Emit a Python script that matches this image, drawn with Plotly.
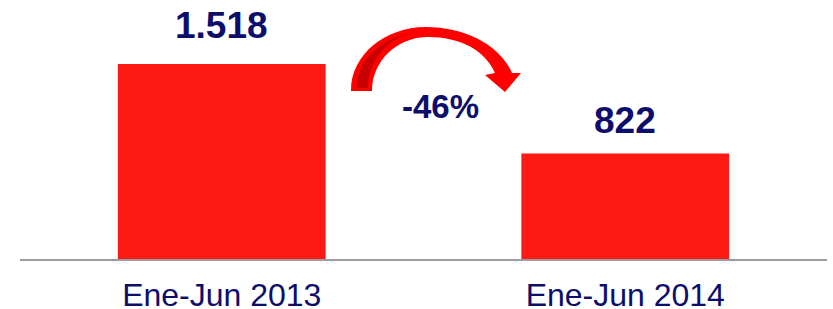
import plotly.graph_objects as go

# ---- data ----
categories = ["Ene-Jun 2013", "Ene-Jun 2014"]
values = [1518, 822]
change_label = "-46%"

# ---- style ----
BAR_RED = "#FF1914"
NAVY = "#0D0D6B"
ARROW_RED = "#FF0000"
ARROW_DARK = "#C80000"
FONT = "Liberation Sans"

W, H = 833, 309
L, R, T, B = 20, 6, 0, 50
PW, PH = W - L - R, H - T - B
label_shift = [39, 33]


def px(x):
    return (x - L) / PW


def py(y):
    return (T + PH - y) / PH


def pt(x, y):
    return f"{px(x):.5f},{py(y):.5f}"


fig = go.Figure()
fig.add_trace(go.Bar(
    x=categories, y=values,
    marker=dict(color=BAR_RED, line=dict(width=0)),
    width=0.515, hoverinfo="skip",
))


def fmt(v):
    return f"{v:,}".replace(",", ".")


annotations = []
for c, v, s in zip(categories, values, label_shift):
    annotations.append(dict(
        x=c, y=v, xref="x", yref="y", text=fmt(v), showarrow=False,
        xanchor="center", yanchor="middle", yshift=s,
        font=dict(family=FONT, size=37, color=NAVY, weight="bold"),
    ))
annotations.append(dict(
    x=px(440), y=py(107), xref="paper", yref="paper", text=change_label,
    showarrow=False, xanchor="center", yanchor="middle",
    font=dict(family=FONT, size=33, color=NAVY, weight="bold"),
))

# curved arrow (decoration)
arrow_path = (
    f"M {pt(351, 90)} "
    f"C {pt(351, 55)} {pt(385, 27)} {pt(426, 27)} "
    f"C {pt(465, 27)} {pt(500, 45)} {pt(512, 73)} "
    f"L {pt(521, 73)} L {pt(505, 92)} L {pt(485, 75)} L {pt(495, 73)} "
    f"C {pt(485, 50)} {pt(460, 37)} {pt(428, 37)} "
    f"C {pt(397, 37)} {pt(372, 61)} {pt(372, 91)} "
    f"L {pt(351, 91)} Z"
)
stripe_path = (
    f"M {pt(357, 88)} "
    f"C {pt(357, 60)} {pt(380, 38)} {pt(418, 31)} "
    f"C {pt(388, 36)} {pt(368, 60)} {pt(368, 88)} Z"
)
shapes = [
    dict(type="path", xref="paper", yref="paper", path=arrow_path,
         fillcolor=ARROW_RED, line=dict(width=0), layer="above"),
    dict(type="path", xref="paper", yref="paper", path=stripe_path,
         fillcolor=ARROW_DARK, line=dict(width=0), layer="above"),
]

ymax = values[0] * PH / 195

fig.update_layout(
    width=W, height=H,
    margin=dict(l=L, r=R, t=T, b=B, pad=0),
    paper_bgcolor="white", plot_bgcolor="white",
    showlegend=False,
    bargap=0.485,
    annotations=annotations,
    shapes=shapes,
    xaxis=dict(
        showline=True, linecolor="#9C9C9C", linewidth=2,
        showgrid=False, zeroline=False, ticks="",
        tickfont=dict(family=FONT, size=32, color=NAVY),
        ticklabelstandoff=7, automargin=False, fixedrange=True,
    ),
    yaxis=dict(
        range=[0, ymax], visible=False, showgrid=False, zeroline=False,
        automargin=False, fixedrange=True,
    ),
)

fig.write_html(
    "out.html",
    config={"displayModeBar": False},
    post_script="document.body.style.margin='0';document.body.style.overflow='hidden';",
)
